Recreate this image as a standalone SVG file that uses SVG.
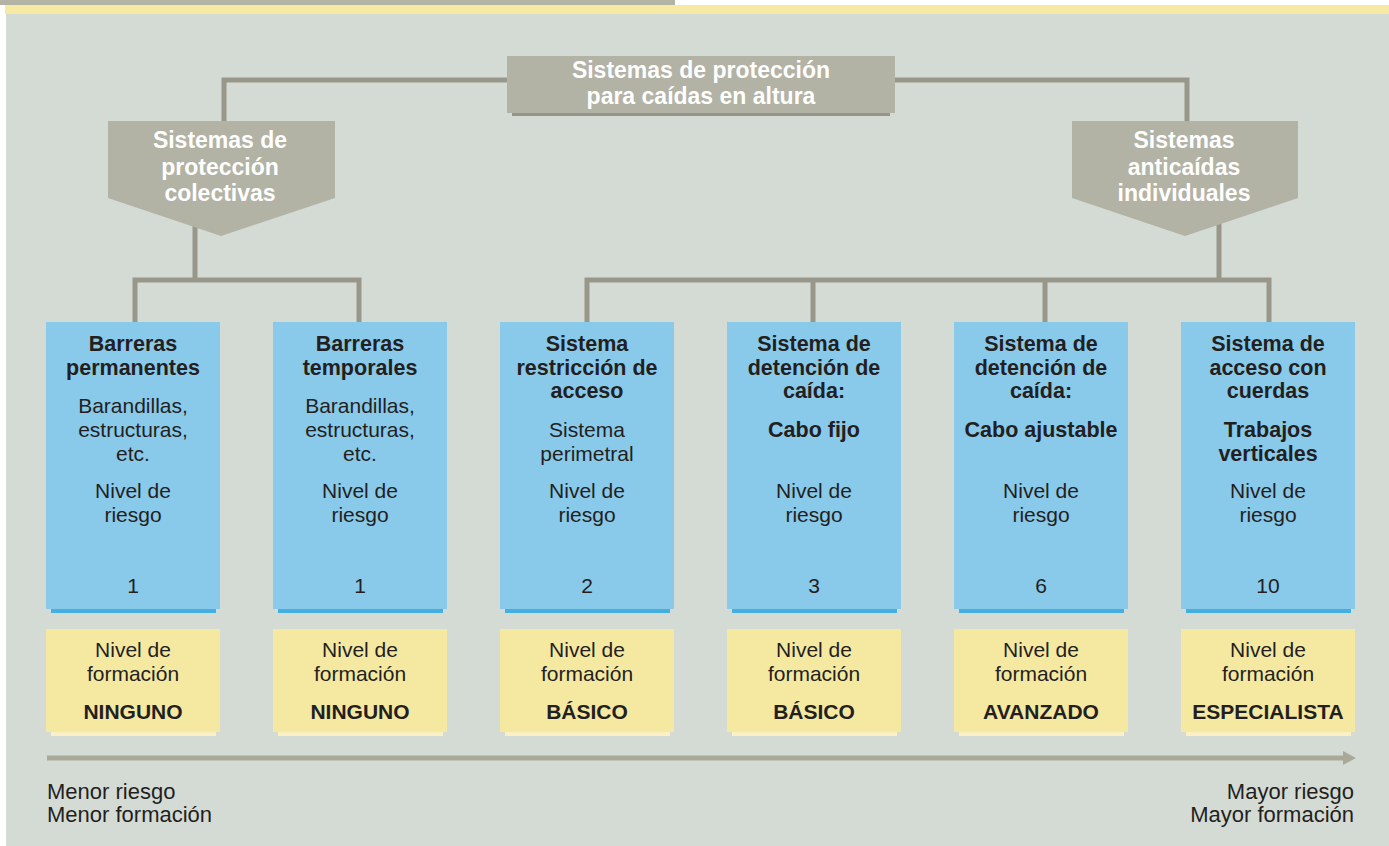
<svg xmlns="http://www.w3.org/2000/svg" width="1389" height="846" viewBox="0 0 1389 846">
<style>
text{font-family:"Liberation Sans",Arial,sans-serif;fill:#231f20;text-anchor:middle}
.hd{font-weight:bold;font-size:23px;fill:#ffffff}
.t{font-weight:bold;font-size:21.5px}
.r{font-size:21px}
.b{font-weight:bold;font-size:21px}
.lbl{font-size:22px;text-anchor:start}
.lblr{font-size:22px;text-anchor:end}
.gray{fill:#b2b2a5}
.gsh{fill:#97958a}
.blue{fill:#89c9ea}
.bsh{fill:#46afe2}
.yel{fill:#f5e8a1}
.ysh{fill:#faf0c4}
.con{fill:none;stroke:#99978a;stroke-width:5;stroke-linejoin:miter}
</style>
<rect x="0" y="0" width="1389" height="846" fill="#ffffff"/>
<rect x="6" y="14" width="1383" height="832" fill="#d4dbd5"/>
<rect x="0" y="0" width="675" height="5" fill="#b2b2a5"/>
<rect x="5" y="5" width="1384" height="9" fill="#f5e9a4"/>

<g id="connectors">
<polyline class="con" points="508,80 224,80 224,123"/>
<polyline class="con" points="893,80 1187,80 1187,123"/>
<line class="con" x1="195" y1="215" x2="195" y2="280"/>
<polyline class="con" points="135,322 135,280 359,280 359,322"/>
<line class="con" x1="1219" y1="215" x2="1219" y2="280"/>
<polyline class="con" points="587,322 587,280 1269,280 1269,322"/>
<line class="con" x1="813" y1="280" x2="813" y2="322"/>
<line class="con" x1="1045" y1="280" x2="1045" y2="322"/>
</g>

<g id="root">
<rect class="gsh" x="512" y="110" width="378" height="6"/>
<rect class="gray" x="507" y="56" width="388" height="57"/>
<text class="hd" x="701" y="78">Sistemas de protección</text>
<text class="hd" x="701" y="104">para caídas en altura</text>
</g>

<g id="colectivas">
<polygon class="gray" points="108,121 335,121 335,198 221,236 108,198"/>
<text class="hd" x="220" y="148">Sistemas de</text>
<text class="hd" x="220" y="175">protección</text>
<text class="hd" x="220" y="201">colectivas</text>
</g>

<g id="individuales">
<polygon class="gray" points="1072,121 1298,121 1298,198 1185,236 1072,198"/>
<text class="hd" x="1184" y="148">Sistemas</text>
<text class="hd" x="1184" y="175">anticaídas</text>
<text class="hd" x="1184" y="201">individuales</text>
</g>

<g id="n1">
<rect class="bsh" x="51" y="606" width="165" height="7"/>
<rect class="blue" x="46" y="322" width="174" height="287"/>
<text class="t" x="133" y="351">Barreras</text>
<text class="t" x="133" y="375">permanentes</text>
<text class="r" x="133" y="413">Barandillas,</text>
<text class="r" x="133" y="437">estructuras,</text>
<text class="r" x="133" y="461">etc.</text>
<text class="r" x="133" y="498">Nivel de</text>
<text class="r" x="133" y="522">riesgo</text>
<text class="r" x="133" y="593">1</text>
</g>
<g id="f1">
<rect class="ysh" x="51" y="729" width="165" height="7"/>
<rect class="yel" x="46" y="629" width="174" height="103"/>
<text class="r" x="133" y="657">Nivel de</text>
<text class="r" x="133" y="681">formación</text>
<text class="b" x="133" y="719">NINGUNO</text>
</g>

<g id="n2">
<rect class="bsh" x="278" y="606" width="165" height="7"/>
<rect class="blue" x="273" y="322" width="174" height="287"/>
<text class="t" x="360" y="351">Barreras</text>
<text class="t" x="360" y="375">temporales</text>
<text class="r" x="360" y="413">Barandillas,</text>
<text class="r" x="360" y="437">estructuras,</text>
<text class="r" x="360" y="461">etc.</text>
<text class="r" x="360" y="498">Nivel de</text>
<text class="r" x="360" y="522">riesgo</text>
<text class="r" x="360" y="593">1</text>
</g>
<g id="f2">
<rect class="ysh" x="278" y="729" width="165" height="7"/>
<rect class="yel" x="273" y="629" width="174" height="103"/>
<text class="r" x="360" y="657">Nivel de</text>
<text class="r" x="360" y="681">formación</text>
<text class="b" x="360" y="719">NINGUNO</text>
</g>

<g id="n3">
<rect class="bsh" x="505" y="606" width="165" height="7"/>
<rect class="blue" x="500" y="322" width="174" height="287"/>
<text class="t" x="587" y="351">Sistema</text>
<text class="t" x="587" y="375">restricción de</text>
<text class="t" x="587" y="398">acceso</text>
<text class="r" x="587" y="437">Sistema</text>
<text class="r" x="587" y="461">perimetral</text>
<text class="r" x="587" y="498">Nivel de</text>
<text class="r" x="587" y="522">riesgo</text>
<text class="r" x="587" y="593">2</text>
</g>
<g id="f3">
<rect class="ysh" x="505" y="729" width="165" height="7"/>
<rect class="yel" x="500" y="629" width="174" height="103"/>
<text class="r" x="587" y="657">Nivel de</text>
<text class="r" x="587" y="681">formación</text>
<text class="b" x="587" y="719">BÁSICO</text>
</g>

<g id="n4">
<rect class="bsh" x="732" y="606" width="165" height="7"/>
<rect class="blue" x="727" y="322" width="174" height="287"/>
<text class="t" x="814" y="351">Sistema de</text>
<text class="t" x="814" y="375">detención de</text>
<text class="t" x="814" y="398">caída:</text>
<text class="t" x="814" y="437">Cabo fijo</text>
<text class="r" x="814" y="498">Nivel de</text>
<text class="r" x="814" y="522">riesgo</text>
<text class="r" x="814" y="593">3</text>
</g>
<g id="f4">
<rect class="ysh" x="732" y="729" width="165" height="7"/>
<rect class="yel" x="727" y="629" width="174" height="103"/>
<text class="r" x="814" y="657">Nivel de</text>
<text class="r" x="814" y="681">formación</text>
<text class="b" x="814" y="719">BÁSICO</text>
</g>

<g id="n5">
<rect class="bsh" x="959" y="606" width="165" height="7"/>
<rect class="blue" x="954" y="322" width="174" height="287"/>
<text class="t" x="1041" y="351">Sistema de</text>
<text class="t" x="1041" y="375">detención de</text>
<text class="t" x="1041" y="398">caída:</text>
<text class="t" x="1041" y="437">Cabo ajustable</text>
<text class="r" x="1041" y="498">Nivel de</text>
<text class="r" x="1041" y="522">riesgo</text>
<text class="r" x="1041" y="593">6</text>
</g>
<g id="f5">
<rect class="ysh" x="959" y="729" width="165" height="7"/>
<rect class="yel" x="954" y="629" width="174" height="103"/>
<text class="r" x="1041" y="657">Nivel de</text>
<text class="r" x="1041" y="681">formación</text>
<text class="b" x="1041" y="719">AVANZADO</text>
</g>

<g id="n6">
<rect class="bsh" x="1186" y="606" width="165" height="7"/>
<rect class="blue" x="1181" y="322" width="174" height="287"/>
<text class="t" x="1268" y="351">Sistema de</text>
<text class="t" x="1268" y="375">acceso con</text>
<text class="t" x="1268" y="398">cuerdas</text>
<text class="t" x="1268" y="437">Trabajos</text>
<text class="t" x="1268" y="461">verticales</text>
<text class="r" x="1268" y="498">Nivel de</text>
<text class="r" x="1268" y="522">riesgo</text>
<text class="r" x="1268" y="593">10</text>
</g>
<g id="f6">
<rect class="ysh" x="1186" y="729" width="165" height="7"/>
<rect class="yel" x="1181" y="629" width="174" height="103"/>
<text class="r" x="1268" y="657">Nivel de</text>
<text class="r" x="1268" y="681">formación</text>
<text class="b" x="1268" y="719">ESPECIALISTA</text>
</g>

<g id="scale">
<line x1="47" y1="758" x2="1344" y2="758" stroke="#a9a99a" stroke-width="5"/>
<polygon points="1343,751 1356,758 1343,765" fill="#a9a99a"/>
<text class="lbl" x="47" y="799">Menor riesgo</text>
<text class="lbl" x="47" y="822">Menor formación</text>
<text class="lblr" x="1354" y="799">Mayor riesgo</text>
<text class="lblr" x="1354" y="822">Mayor formación</text>
</g>
</svg>
